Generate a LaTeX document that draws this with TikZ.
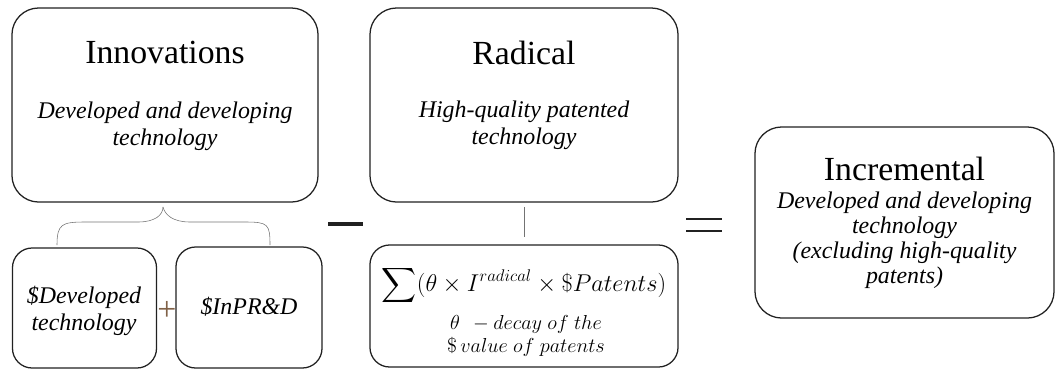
\documentclass[tikz,border=0pt]{standalone}
\usepackage{fontspec}
\setmainfont{Liberation Serif}
\usepackage{amsmath}
\usetikzlibrary{positioning}
\definecolor{boxline}{rgb}{0.13,0.13,0.13}
\definecolor{bracegray}{rgb}{0.45,0.45,0.45}
\definecolor{plusbrown}{rgb}{0.5,0.38,0.28}

\tikzset{
  bigbox/.style={draw=boxline, line width=0.9pt, rounded corners=19pt},
  smallbox/.style={draw=boxline, line width=0.9pt, rounded corners=14pt},
  title/.style={font=\fontsize{24}{28}\selectfont},
  desc/.style={align=center, font=\fontsize{17}{19.2}\selectfont\itshape},
}

\begin{document}
\begin{tikzpicture}[x=0.025cm,y=-0.025cm]
        \useasboundingbox (0,0) rectangle (1057,371);
        % Boxes
        \node[bigbox, minimum width=7.65cm, minimum height=4.85cm] (innov) at (165,105) {};
        \node[bigbox, minimum width=7.7cm, minimum height=4.85cm] (rad) at (524,105) {};
        \node[bigbox, minimum width=7.475cm, minimum height=4.775cm] (incr) at (904.5,222.5) {};
        \node[smallbox, minimum width=3.6cm, minimum height=3.0cm] (dev) at (84.5,308) {};
        \node[smallbox, minimum width=3.65cm, minimum height=3.025cm] (inpr) at (249,307.5) {};
        \node[smallbox, minimum width=7.7cm, minimum height=3.05cm] (sum) at (524,306) {};
        % Titles and descriptions
        \node[title] (innovT) at (165,52) {Innovations};
        \node[desc] (innovD) at (165,126) {Developed and developing\\technology};
        \node[title] (radT) at (524,53) {Radical};
        \node[desc] (radD) at (524,125) {High-quality patented\\technology};
        \node[title] (incrT) at (904.5,169) {Incremental};
        \node[desc, font=\fontsize{17}{17.8}\selectfont\itshape] (incrD) at (904.5,240)
          {Developed and developing\\technology\\(excluding high-quality\\patents)};
        \node[desc] (devT) at (84,311) {\$Developed\\technology};
        \node[desc] (inprT) at (249,307) {\$InPR\&D};
        \node[font=\fontsize{17}{20}\selectfont] (sumF) at (524,285)
          {$\displaystyle\sum(\theta\times I^{radical}\times\$Patents)$};
        \node[align=center, font=\fontsize{15}{16.5}\selectfont] (sumD) at (526,336)
          {$\theta\ \,- decay\ of\ the$\\$\$\,value\ of\ patents$};
        % Operators
        \node[font=\fontsize{24}{28}\selectfont, text=plusbrown, inner sep=0pt] (plus) at (167,311) {+};
        \draw[line width=2.6pt, boxline] (328,224) -- (363,224);
        \draw[line width=1.5pt, boxline] (686,219) -- (722,219);
        \draw[line width=1.5pt, boxline] (686,231) -- (722,231);
        % Brace
        \coordinate (bl) at (57,245);
        \coordinate (br) at (270,245);
        \coordinate (bt) at (163,207);
        \draw[thin, bracegray] (bl) .. controls (57,224) and (62,222) .. (85,222) -- (138,222)
          .. controls (155,222) and (163,215) .. (bt);
        \draw[thin, bracegray] (bt) .. controls (165,215) and (173,222) .. (190,222) -- (245,222)
          .. controls (268,222) and (270,224) .. (br);
        % Link
        \draw[thin, bracegray, shorten <=3pt, shorten >=5pt] (rad.south) -- (sum.north);
\end{tikzpicture}
\end{document}
